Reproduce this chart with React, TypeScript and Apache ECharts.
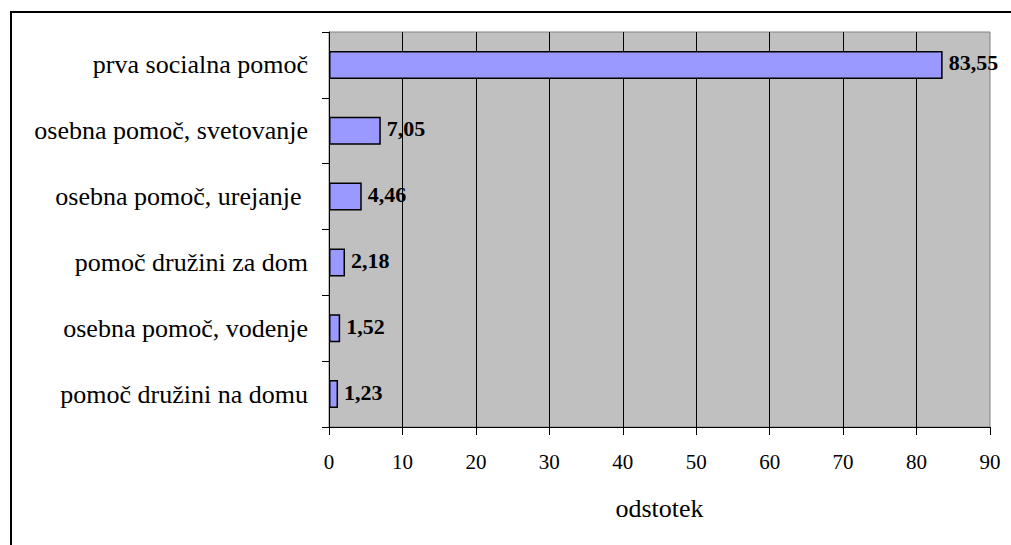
import React, { useEffect, useRef } from "react";
import * as echarts from "echarts";

const categories = [
  "prva socialna pomoč",
  "osebna pomoč, svetovanje",
  "osebna pomoč, urejanje ",
  "pomoč družini za dom",
  "osebna pomoč, vodenje",
  "pomoč družini na domu",
];
const values = [83.55, 7.05, 4.46, 2.18, 1.52, 1.23];
const axisName = "odstotek";
const xMin = 0;
const xMax = 90;
const xInterval = 10;

const FONT = "Liberation Serif";

export default function App() {
  const ref = useRef<HTMLDivElement>(null);
  useEffect(() => {
    if (!ref.current) return;
    const chart = echarts.init(ref.current, null, { renderer: "svg" });
    chart.setOption({
      animation: false,
      backgroundColor: "#ffffff",
      textStyle: { fontFamily: FONT },
      graphic: [
        {
          type: "rect",
          shape: { x: 11, y: 12, width: 1200, height: 1000 },
          style: { fill: "none", stroke: "#000000", lineWidth: 2 },
          silent: true,
          z: 100,
        },
      ],
      grid: {
        left: 329,
        right: 21,
        top: 32,
        bottom: 118,
        show: true,
        backgroundColor: "#C0C0C0",
        borderColor: "#808080",
        borderWidth: 1,
      },
      xAxis: {
        type: "value",
        min: xMin,
        max: xMax,
        interval: xInterval,
        name: axisName,
        nameLocation: "middle",
        nameGap: 68,
        nameTextStyle: { fontFamily: FONT, fontSize: 26, color: "#000" },
        axisLine: { show: true, lineStyle: { color: "#000", width: 1 } },
        axisTick: { show: true, length: 8, lineStyle: { color: "#000" } },
        axisLabel: {
          fontFamily: FONT,
          fontSize: 21,
          color: "#000",
          margin: 24,
        },
        splitLine: {
          show: true,
          showMinLine: false,
          showMaxLine: false,
          lineStyle: { color: "#000", width: 1 },
        },
      },
      yAxis: {
        type: "category",
        data: categories,
        inverse: true,
        axisLine: { show: true, lineStyle: { color: "#000", width: 1 } },
        axisTick: {
          show: true,
          length: 7,
          alignWithLabel: false,
          lineStyle: { color: "#000" },
        },
        axisLabel: {
          fontFamily: FONT,
          fontSize: 26,
          color: "#000",
          margin: 21,
        },
        splitLine: { show: false },
      },
      series: [
        {
          type: "bar",
          data: values,
          barWidth: 28,
          itemStyle: {
            color: "#9999FF",
            borderColor: "#000000",
            borderWidth: 1.5,
          },
          label: {
            show: true,
            position: "right",
            distance: 6,
            offset: [0, -2],
            fontFamily: FONT,
            fontSize: 22,
            fontWeight: "bold",
            color: "#000",
            formatter: (p: any) => String(p.value.toFixed(2)).replace(".", ","),
          },
          z: 3,
        },
      ],
    });
    return () => chart.dispose();
  }, []);
  return (
    <div
      ref={ref}
      style={{ position: "absolute", left: 0, top: 0, width: 1011, height: 545 }}
    />
  );
}
